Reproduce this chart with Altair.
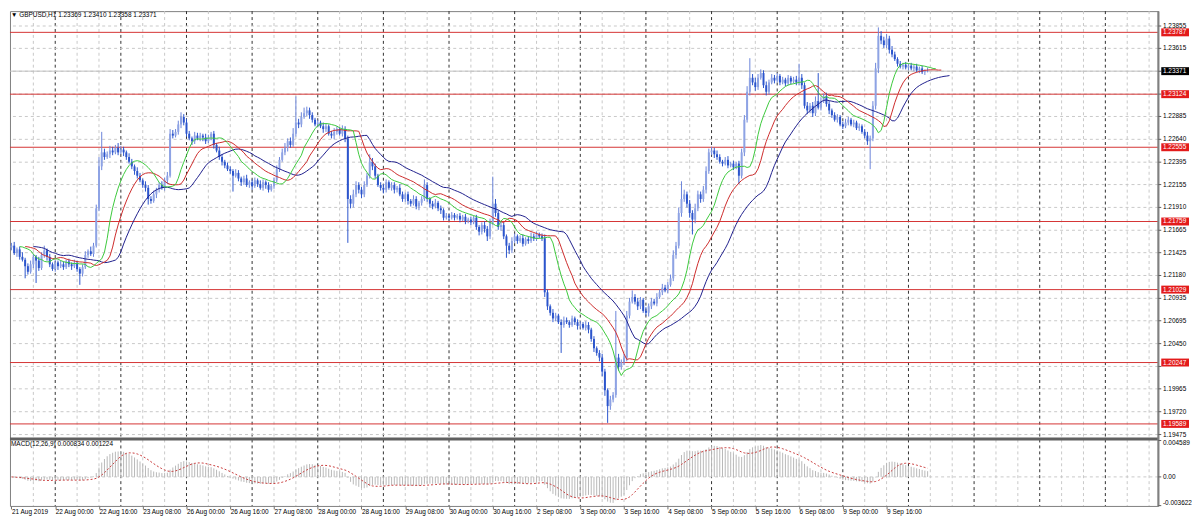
import json
import altair as alt
import pandas as pd

# ---------------- data ----------------
close = [
    1.2150, 1.2142, 1.2146, 1.2138, 1.2135, 1.2128, 1.2122, 1.2130, 1.2138, 1.2134, 1.2126, 1.2140, 1.2145, 1.2138, 1.2130, 1.2125,
    1.2132, 1.2128, 1.2130, 1.2127, 1.2133, 1.2130, 1.2128, 1.2131, 1.2125, 1.2120, 1.2127, 1.2140, 1.2144, 1.2141, 1.2150, 1.2190,
    1.2235, 1.2250, 1.2245, 1.2248, 1.2252, 1.2250, 1.2255, 1.2250, 1.2253, 1.2250, 1.2245, 1.2240, 1.2235, 1.2230, 1.2225, 1.2220,
    1.2215, 1.2212, 1.2200, 1.2198, 1.2205, 1.2210, 1.2215, 1.2212, 1.2220, 1.2225, 1.2270, 1.2268, 1.2272, 1.2280, 1.2288, 1.2282,
    1.2270, 1.2265, 1.2262, 1.2268, 1.2265, 1.2268, 1.2266, 1.2262, 1.2266, 1.2270, 1.2258, 1.2252, 1.2245, 1.2240, 1.2236, 1.2232,
    1.2230, 1.2225, 1.2228, 1.2222, 1.2218, 1.2222, 1.2215, 1.2218, 1.2214, 1.2220, 1.2216, 1.2212, 1.2218, 1.2215, 1.2210, 1.2214,
    1.2220, 1.2232, 1.2242, 1.2250, 1.2255, 1.2262, 1.2258, 1.2270, 1.2282, 1.2280, 1.2288, 1.2292, 1.2295, 1.2290, 1.2285, 1.2280,
    1.2282, 1.2278, 1.2275, 1.2278, 1.2270, 1.2268, 1.2272, 1.2275, 1.2270, 1.2275, 1.2265, 1.2200, 1.2195, 1.2205, 1.2215, 1.2210,
    1.2205, 1.2215, 1.2225, 1.2240, 1.2235, 1.2225, 1.2215, 1.2212, 1.2210, 1.2218, 1.2212, 1.2215, 1.2210, 1.2212, 1.2205, 1.2200,
    1.2205, 1.2198, 1.2195, 1.2200, 1.2192, 1.2196, 1.2200, 1.2215, 1.2200, 1.2195, 1.2192, 1.2196, 1.2190, 1.2188, 1.2180, 1.2182,
    1.2180, 1.2183, 1.2180, 1.2182, 1.2178, 1.2181, 1.2176, 1.2178, 1.2175, 1.2180, 1.2170, 1.2165, 1.2172, 1.2168, 1.2160, 1.2175,
    1.2195, 1.2185, 1.2170, 1.2172, 1.2160, 1.2150, 1.2145, 1.2155, 1.2160, 1.2155, 1.2158, 1.2152, 1.2157, 1.2155, 1.2160, 1.2158,
    1.2162, 1.2160, 1.2158, 1.2100, 1.2085, 1.2078, 1.2072, 1.2075, 1.2068, 1.2065, 1.2070, 1.2068, 1.2065, 1.2072, 1.2068, 1.2064,
    1.2066, 1.2062, 1.2065, 1.2060, 1.2050, 1.2040, 1.2035, 1.2030, 1.2015, 1.1995, 1.1978, 1.1985, 1.1990, 1.2030, 1.2020, 1.2025,
    1.2030, 1.2075, 1.2090, 1.2095, 1.2090, 1.2085, 1.2092, 1.2080, 1.2078, 1.2085, 1.2090, 1.2088, 1.2095, 1.2100, 1.2105, 1.2102,
    1.2108, 1.2115, 1.2140, 1.2150, 1.2185, 1.2200, 1.2205, 1.2195, 1.2185, 1.2178, 1.2190, 1.2205, 1.2200, 1.2210, 1.2230, 1.2250,
    1.2252, 1.2248, 1.2245, 1.2240, 1.2238, 1.2242, 1.2236, 1.2238, 1.2234, 1.2238, 1.2225, 1.2250, 1.2285, 1.2315, 1.2330, 1.2325,
    1.2320, 1.2330, 1.2335, 1.2322, 1.2315, 1.2325, 1.2330, 1.2327, 1.2332, 1.2325, 1.2328, 1.2324, 1.2330, 1.2326, 1.2328, 1.2325,
    1.2330, 1.2322, 1.2300, 1.2295, 1.2300, 1.2292, 1.2305, 1.2298, 1.2305, 1.2310, 1.2302, 1.2295, 1.2290, 1.2285, 1.2288, 1.2280,
    1.2278, 1.2282, 1.2285, 1.2280, 1.2282, 1.2276, 1.2278, 1.2272, 1.2268, 1.2262, 1.2265, 1.2300, 1.2340, 1.2375, 1.2370, 1.2365,
    1.2372, 1.2360, 1.2355, 1.2350, 1.2345, 1.2342, 1.2344, 1.2341, 1.2343, 1.2340, 1.2342, 1.2338, 1.2340, 1.2336, 1.2337, 1.23371,
]

upper_wick_pips = [
    3, 4, 2, 3, 5, 2, 3, 4, 3, 2, 4, 3, 5, 2, 3, 2,
    3, 2, 4, 3, 2, 3, 2, 4, 3, 2, 3, 4, 2, 5, 3, 4,
    10, 22, 4, 3, 5, 4, 3, 5, 4, 3, 2, 4, 3, 2, 4, 3,
    2, 4, 3, 3, 4, 2, 3, 4, 3, 4, 5, 4, 3, 4, 5, 3,
    4, 3, 2, 4, 3, 3, 2, 4, 3, 2, 3, 2, 4, 3, 2, 3,
    3, 2, 4, 3, 2, 3, 4, 2, 3, 3, 2, 4, 3, 2, 3, 2,
    3, 4, 3, 4, 5, 3, 4, 6, 28, 4, 5, 6, 4, 3, 3, 2,
    3, 2, 4, 3, 2, 3, 4, 3, 2, 4, 3, 3, 4, 5, 4, 3,
    3, 4, 3, 8, 4, 3, 2, 3, 4, 3, 2, 3, 3, 2, 4, 3,
    2, 3, 2, 4, 3, 2, 3, 6, 3, 2, 3, 4, 2, 3, 2, 3,
    2, 3, 2, 2, 3, 2, 3, 2, 3, 2, 3, 2, 3, 4, 3, 4,
    29, 5, 3, 4, 3, 2, 3, 4, 3, 2, 3, 4, 2, 3, 4, 3,
    3, 2, 3, 4, 3, 2, 4, 3, 2, 3, 4, 3, 2, 3, 2, 3,
    3, 2, 4, 3, 2, 3, 2, 3, 4, 3, 2, 4, 3, 50, 4, 3,
    4, 5, 4, 7, 3, 4, 3, 2, 4, 3, 4, 3, 4, 3, 4, 3,
    3, 4, 5, 4, 6, 19, 5, 3, 4, 3, 5, 4, 3, 4, 5, 4,
    4, 3, 4, 3, 2, 3, 4, 2, 3, 2, 3, 4, 5, 6, 21, 4,
    5, 4, 4, 3, 4, 3, 4, 3, 3, 2, 3, 2, 3, 2, 3, 4,
    15, 4, 3, 4, 3, 4, 5, 30, 4, 3, 4, 3, 2, 3, 3, 2,
    3, 4, 3, 2, 3, 2, 3, 2, 3, 4, 3, 5, 6, 9, 5, 4,
    5, 3, 4, 3, 2, 3, 2, 3, 2, 3, 2, 3, 2, 3, 2, 4,
]

lower_wick_pips = [
    3, 2, 4, 3, 2, 13, 3, 2, 4, 24, 3, 2, 3, 4, 3, 2,
    3, 4, 2, 3, 2, 3, 4, 2, 3, 12, 3, 2, 3, 2, 3, 2,
    3, 4, 3, 2, 4, 3, 2, 3, 2, 4, 3, 2, 3, 4, 3, 2,
    3, 4, 6, 3, 2, 4, 3, 2, 3, 4, 2, 3, 2, 3, 4, 3,
    3, 2, 4, 3, 2, 3, 4, 3, 2, 3, 4, 2, 3, 4, 3, 2,
    3, 17, 2, 3, 4, 3, 2, 3, 4, 2, 3, 2, 3, 4, 3, 2,
    3, 2, 3, 2, 3, 4, 3, 2, 3, 4, 3, 2, 3, 4, 3, 2,
    3, 2, 4, 3, 2, 3, 4, 3, 2, 3, 4, 47, 5, 4, 3, 4,
    4, 3, 2, 3, 4, 3, 2, 3, 4, 3, 2, 3, 4, 3, 2, 3,
    3, 4, 3, 2, 3, 4, 3, 2, 3, 4, 3, 2, 3, 4, 3, 2,
    3, 2, 3, 2, 3, 2, 3, 2, 3, 2, 3, 4, 3, 4, 5, 3,
    3, 4, 3, 4, 3, 13, 4, 3, 2, 3, 2, 3, 2, 3, 2, 3,
    3, 2, 3, 5, 4, 3, 4, 3, 2, 30, 3, 2, 3, 2, 3, 4,
    3, 2, 3, 4, 3, 4, 3, 4, 5, 6, 18, 4, 3, 3, 4, 3,
    3, 4, 3, 2, 3, 4, 3, 2, 3, 4, 3, 2, 3, 2, 3, 2,
    3, 2, 3, 4, 3, 4, 3, 4, 5, 16, 4, 3, 4, 3, 4, 3,
    3, 4, 3, 2, 3, 2, 3, 2, 3, 2, 9, 3, 4, 3, 4, 3,
    4, 3, 2, 3, 4, 3, 2, 3, 2, 3, 2, 3, 2, 3, 2, 3,
    3, 4, 3, 4, 3, 4, 3, 2, 3, 2, 3, 4, 3, 2, 3, 2,
    3, 2, 3, 2, 3, 2, 3, 2, 3, 4, 30, 3, 4, 5, 4, 3,
    3, 4, 3, 2, 3, 2, 3, 2, 3, 2, 3, 2, 3, 2, 3, 1,
]

first_open = 1.2148
last_bar_ohlc = [1.23369, 1.23410, 1.23358, 1.23371]

time_labels = [
    "21 Aug 2019", "22 Aug 00:00", "22 Aug 16:00", "23 Aug 08:00", "26 Aug 00:00",
    "26 Aug 16:00", "27 Aug 08:00", "28 Aug 00:00", "28 Aug 16:00", "29 Aug 08:00",
    "30 Aug 00:00", "30 Aug 16:00", "2 Sep 08:00", "3 Sep 00:00", "3 Sep 16:00",
    "4 Sep 08:00", "5 Sep 00:00", "5 Sep 16:00", "6 Sep 08:00", "9 Sep 00:00", "9 Sep 16:00",
]
# grid levels of the price scale (all drawn as grid lines)
price_grid = [1.23855, 1.23615, 1.23370, 1.23125, 1.22885, 1.22640, 1.22395, 1.22155,
              1.21910, 1.21665, 1.21425, 1.21180, 1.20935, 1.20695, 1.20450, 1.20205,
              1.19965, 1.19720, 1.19475]
# price labels that are readable in the reference (others lie under the level boxes)
price_labels = [1.23855, 1.23615, 1.22885, 1.22640, 1.22395, 1.22155,
                1.21910, 1.21665, 1.21425, 1.21180, 1.20935, 1.20695, 1.20450,
                1.19965, 1.19720, 1.19475]
level_values = [1.23787, 1.23124, 1.22555, 1.21759, 1.21029, 1.20247, 1.19589]
last_price = 1.23371
macd_axis_values = [0.004589, 0.0, -0.003622]
symbol_title = "\u25bc GBPUSD,H1  1.23369 1.23410 1.23358 1.23371"
macd_title = "MACD(12,26,9) 0.000834 0.001224"

# ---------------- derived tables ----------------
n_bars = len(close)
opens = [first_open] + close[:-1]
highs = [max(o, c) + u / 10000 for o, c, u in zip(opens, close, upper_wick_pips)]
lows = [min(o, c) - l / 10000 for o, c, l in zip(opens, close, lower_wick_pips)]
opens[-1], highs[-1], lows[-1], _ = last_bar_ohlc

candles = pd.DataFrame({
    "n": list(range(n_bars)), "open": opens, "high": highs, "low": lows, "close": close,
})
candles["up"] = candles["close"] >= candles["open"]

median = (candles["high"] + candles["low"]) / 2


def alligator(period, shift):
    s = median.ewm(alpha=1.0 / period, adjust=False).mean()
    return pd.DataFrame({"n": [i + shift for i in range(n_bars)], "v": s.values})


jaw = alligator(13, 8)
teeth = alligator(8, 5)
lips = alligator(5, 3)

cs = candles["close"]
macd = cs.ewm(span=12, adjust=False).mean() - cs.ewm(span=26, adjust=False).mean()
signal = macd.rolling(9, min_periods=1).mean()
macd_df = pd.DataFrame({"n": list(range(n_bars)), "macd": macd.values,
                        "signal": signal.values, "zero": 0.0})

vgrid = pd.DataFrame({"n": list(range(8, 419, 8))})
vgrid["day"] = ((vgrid["n"] - 16) % 24) == 0

grid_df = pd.DataFrame({"p": price_grid})
ticks_df = pd.DataFrame({"p": price_labels, "label": [f"{v:.5f}" for v in price_labels]})
levels_df = pd.DataFrame({"p": level_values, "label": [f"{v:.5f}" for v in level_values]})
last_df = pd.DataFrame({"p": [last_price], "label": [f"{last_price:.5f}"]})
macd_lab = pd.DataFrame({"v": macd_axis_values,
                         "label": ["0.004589", "0.00", "-0.003622"]})

# ---------------- scales ----------------
W, H = 1158, 499
FONT = "Liberation Sans"
FS = 6.5
xscale = alt.Scale(domain=[-0.5439, 419.356], nice=False, zero=False)
xaxis = alt.Axis(values=list(range(0, 321, 16)),
                 labelExpr=json.dumps(time_labels) + "[round(datum.value / 16)]",
                 labelAlign="left", labelBaseline="top", labelPadding=0, tickSize=3,
                 labelFont=FONT, labelFontSize=FS, labelColor="black", tickColor="#707070",
                 domain=False, grid=False, title=None, labelOverlap=False, labelFlush=False)
X = alt.X("n:Q", scale=xscale, axis=xaxis)
pscale = alt.Scale(domain=[1.194430, 1.240145], range=[430, 0], nice=False, zero=False)
mscale = alt.Scale(domain=[-0.003664, 0.004589], range=[499, 433], nice=False, zero=False, clamp=True)


def PY(field):
    return alt.Y(field, type="quantitative", scale=pscale, axis=None)


def MY(field):
    return alt.Y(field, type="quantitative", scale=mscale, axis=None)


layers = []
# vertical grid (light every 8 bars, dark dotted day separators)
layers.append(alt.Chart(vgrid).transform_filter("!datum.day").mark_rule(
    color="#c8c8c8", strokeDash=[3, 3], strokeWidth=1).encode(x=X))
layers.append(alt.Chart(vgrid).transform_filter("datum.day").mark_rule(
    color="#303030", strokeDash=[3, 3], strokeWidth=1).encode(x=X))
# horizontal grid
layers.append(alt.Chart(grid_df).mark_rule(color="#c8c8c8", strokeDash=[3, 3], strokeWidth=1)
              .encode(y=PY("p")))
layers.append(alt.Chart(pd.DataFrame({"v": [0.0]})).mark_rule(
    color="#c8c8c8", strokeDash=[3, 3], strokeWidth=1).encode(y=MY("v")))
# level lines and last price line
layers.append(alt.Chart(last_df).mark_rule(color="#c0c0c0", strokeWidth=1).encode(y=PY("p")))
layers.append(alt.Chart(levels_df).mark_rule(color="#d43434", strokeWidth=1).encode(y=PY("p")))

# MACD
layers.append(alt.Chart(macd_df).mark_rule(color="#b8b8b8", strokeWidth=1)
              .encode(x=X, y=MY("macd"), y2="zero:Q"))
layers.append(alt.Chart(macd_df).mark_line(color="#c83c3c", strokeWidth=1, strokeDash=[2, 2])
              .encode(x=X, y=MY("signal")))

# candles
wick_color = alt.condition("datum.up", alt.value("#6a84da"), alt.value("#2c55cc"))
body_color = alt.condition("datum.up", alt.value("#8ea3e4"), alt.value("#2c55cc"))
layers.append(alt.Chart(candles).mark_rule(strokeWidth=1)
              .encode(x=X, y=PY("low"), y2="high:Q", color=wick_color))
layers.append(alt.Chart(candles).mark_rect(xOffset=-1, x2Offset=1)
              .encode(x=X, x2="n:Q", y=PY("open"), y2="close:Q", color=body_color))

# alligator
layers.append(alt.Chart(jaw).mark_line(color="#1e1e8c", strokeWidth=1).encode(x=X, y=PY("v")))
layers.append(alt.Chart(teeth).mark_line(color="#cc2a2a", strokeWidth=1).encode(x=X, y=PY("v")))
layers.append(alt.Chart(lips).mark_line(color="#3cc83c", strokeWidth=1).encode(x=X, y=PY("v")))

# separator between panels and right border
layers.append(alt.Chart(pd.DataFrame({"v": [0]})).mark_rule(color="#606060", strokeWidth=3)
              .encode(y=alt.value(431.5)))
layers.append(alt.Chart(pd.DataFrame({"v": [0]})).mark_rule(color="#808080", strokeWidth=2)
              .encode(x=alt.value(W), y=alt.value(0), y2=alt.value(H)))

# price axis: ticks + labels
layers.append(alt.Chart(grid_df).mark_rule(color="#606060", strokeWidth=1)
              .encode(x=alt.value(W), x2=alt.value(W + 3), y=PY("p")))
layers.append(alt.Chart(ticks_df).mark_text(align="left", baseline="middle", font=FONT,
                                            fontSize=FS, color="black")
              .encode(x=alt.value(W + 4.7), y=PY("p"), text="label:N"))
# level boxes
layers.append(alt.Chart(levels_df).mark_rect(color="#e31b1b", yOffset=-4, y2Offset=4)
              .encode(x=alt.value(W + 3), x2=alt.value(W + 31), y=PY("p"), y2="p:Q"))
layers.append(alt.Chart(levels_df).mark_text(align="left", baseline="middle", font=FONT,
                                             fontSize=FS, color="white")
              .encode(x=alt.value(W + 4.7), y=PY("p"), text="label:N"))
layers.append(alt.Chart(last_df).mark_rect(color="#000000", yOffset=-4, y2Offset=4)
              .encode(x=alt.value(W + 3), x2=alt.value(W + 31), y=PY("p"), y2="p:Q"))
layers.append(alt.Chart(last_df).mark_text(align="left", baseline="middle", font=FONT,
                                           fontSize=FS, color="white")
              .encode(x=alt.value(W + 4.7), y=PY("p"), text="label:N"))

# MACD axis labels
for idx, base in enumerate(["top", "middle", "bottom"]):
    sub = macd_lab.iloc[[idx]]
    layers.append(alt.Chart(sub).mark_text(align="left", baseline=base, font=FONT,
                                           fontSize=FS, color="black")
                  .encode(x=alt.value(W + 4.7), y=MY("v"), text="label:N"))
    layers.append(alt.Chart(sub).mark_rule(color="#606060", strokeWidth=1)
                  .encode(x=alt.value(W), x2=alt.value(W + 3), y=MY("v")))

# panel titles
layers.append(alt.Chart(pd.DataFrame({"t": [symbol_title]})).mark_text(
    align="left", baseline="top", font=FONT, fontSize=FS, color="black")
    .encode(x=alt.value(1), y=alt.value(1), text="t:N"))
layers.append(alt.Chart(pd.DataFrame({"t": [macd_title]})).mark_text(
    align="left", baseline="top", font=FONT, fontSize=FS, color="black")
    .encode(x=alt.value(1), y=alt.value(434), text="t:N"))

chart = (alt.layer(*layers)
         .resolve_scale(y="independent")
         .properties(width=W, height=H, padding=0, background="white")
         .configure_view(stroke="#808080", strokeWidth=1))

chart.save("out.html", embed_options={"renderer": "svg", "actions": False})
